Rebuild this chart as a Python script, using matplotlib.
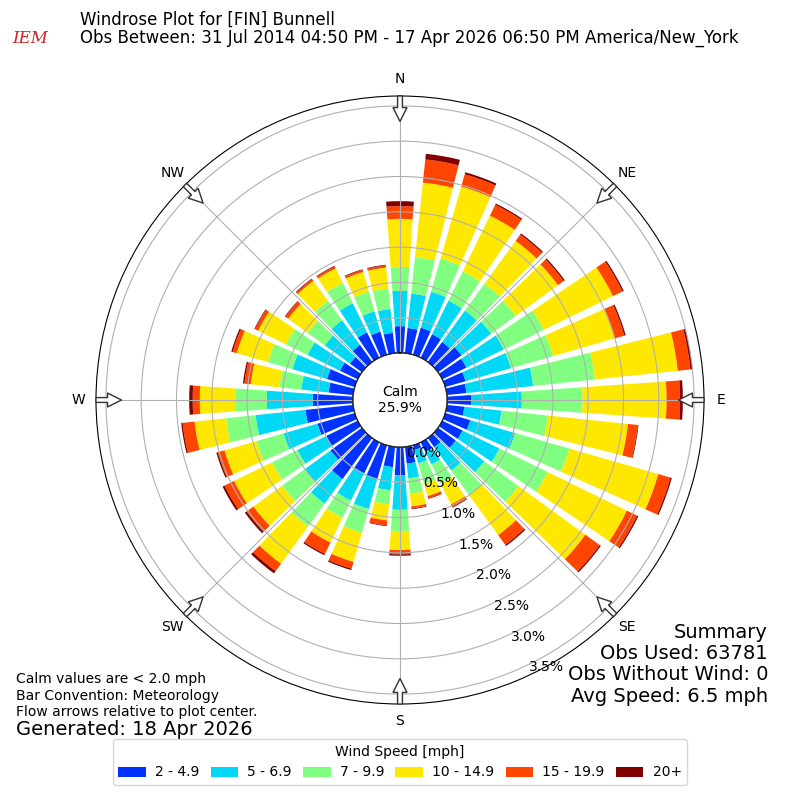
import numpy as np
import matplotlib
matplotlib.use("Agg")
import matplotlib.pyplot as plt
from matplotlib.transforms import offset_copy

directions = list(range(0, 360, 10))
# cumulative percentages (upper edge of each speed bin) per direction
cum_2_4_9 = [0.38,0.36,0.40,0.37,0.35,0.41,0.38,0.30,0.28,0.34,0.25,0.37,0.32,0.31,0.16,0.15,0.07,0.24,
             0.40,0.29,0.50,0.49,0.72,0.55,0.50,0.55,0.68,0.57,0.35,0.41,0.28,0.21,0.30,0.40,0.34,0.29]
cum_5_6_9 = [0.88,0.85,0.93,0.90,0.90,0.93,0.97,0.97,1.23,1.06,0.78,1.03,0.90,0.81,0.57,0.35,0.27,0.45,
             0.89,0.62,0.94,0.92,1.15,1.00,0.95,1.05,1.39,1.22,0.74,0.92,0.79,0.65,0.73,0.86,0.64,0.63]
cum_7_9_9 = [1.22,1.37,1.42,1.36,1.37,1.36,1.60,1.59,2.11,1.92,1.44,1.83,1.66,1.41,1.00,0.65,0.57,0.67,
             1.19,0.82,1.29,1.19,1.55,1.40,1.35,1.45,1.81,1.67,1.05,1.28,1.13,0.95,1.07,1.18,0.93,0.92]
cum_10_14_9 = [1.90,2.43,2.48,2.24,2.12,2.10,2.69,2.50,3.29,3.11,2.58,3.14,2.91,2.58,1.70,0.98,0.75,0.85,
               1.46,1.05,1.72,1.58,2.20,1.90,1.95,1.92,2.26,2.17,1.46,1.74,1.57,1.29,1.42,1.41,1.22,1.22]
cum_15_19_9 = [2.08,2.76,2.66,2.41,2.23,2.20,2.84,2.64,3.47,3.30,2.72,3.32,3.07,2.83,1.87,1.02,0.78,0.88,
               1.52,1.12,1.82,1.76,2.33,2.02,2.10,2.02,2.43,2.27,1.55,1.80,1.62,1.34,1.45,1.44,1.25,1.25]
cum_20_plus = [2.15,2.84,2.69,2.43,2.25,2.22,2.86,2.66,3.50,3.34,2.73,3.34,3.09,2.85,1.89,1.03,0.79,0.89,
               1.54,1.13,1.84,1.78,2.37,2.05,2.13,2.04,2.45,2.32,1.57,1.82,1.63,1.35,1.46,1.45,1.26,1.26]

bin_labels = ["2 - 4.9", "5 - 6.9", "7 - 9.9", "10 - 14.9", "15 - 19.9", "20+"]
bin_colors = ["#0033ff", "#00d8f5", "#80ff80", "#ffe800", "#ff4500", "#7f0000"]
rticks = [0.0, 0.5, 1.0, 1.5, 2.0, 2.5, 3.0, 3.5]
compass = ["N", "NE", "E", "SE", "S", "SW", "W", "NW"]

fig = plt.figure(figsize=(8, 8), dpi=100)
ax = fig.add_axes([0.12, 0.12, 0.76, 0.76], projection="polar")
ax.set_theta_zero_location("N")
ax.set_theta_direction(-1)
ax.set_rorigin(-0.666)
ax.set_ylim(0, 3.64)
ax.set_axisbelow(False)

theta = np.deg2rad(directions)
cums = [cum_2_4_9, cum_5_6_9, cum_7_9_9, cum_10_14_9, cum_15_19_9, cum_20_plus]
prev = np.zeros(len(directions))
handles = []
for c, lab, col in zip(cums, bin_labels, bin_colors):
    c = np.array(c)
    h = ax.bar(theta, c - prev, width=np.deg2rad(8), bottom=prev, color=col,
               label=lab, zorder=1, linewidth=0)
    handles.append(h)
    prev = c

ax.set_yticks(rticks)
ax.set_yticklabels([])
lab_tr = offset_copy(ax.transData, fig=fig, x=0, y=-12, units="dots")
for v in rticks:
    ax.text(np.deg2rad(150.2), v, f"{v:.1f}%", transform=lab_tr, ha="center", va="center",
            fontsize=10, zorder=10)
ax.set_xticks(np.deg2rad(np.arange(0, 360, 45)))
ax.set_xticklabels(compass, fontsize=10)
ax.tick_params(axis="x", pad=2)
ax.grid(True, color="#b0b0b0", linewidth=0.8)

# hole outline
tt = np.linspace(0, 2 * np.pi, 400)
ax.plot(tt, np.zeros_like(tt), color="black", linewidth=1, zorder=5)

# flow arrows
for a in np.arange(0, 360, 45):
    t = np.deg2rad(a)
    ax.annotate("", xy=(t, 3.24), xytext=(t, 3.68),
                arrowprops=dict(arrowstyle="simple,head_width=1.0,head_length=1.0,tail_width=0.35",
                                fc="white", ec="#333333", lw=1),
                annotation_clip=False, zorder=6)

ax.text(0, -0.666, "Calm\n25.9%", ha="center", va="center", fontsize=10, zorder=7)

fig.text(0.10, 0.975, "Windrose Plot for [FIN] Bunnell", fontsize=12, va="center")
fig.text(0.10, 0.953, "Obs Between: 31 Jul 2014 04:50 PM - 17 Apr 2026 06:50 PM America/New_York",
         fontsize=12, va="center")
fig.text(0.038, 0.952, "IEM", fontsize=12, color="#cc2222", style="italic", family="DejaVu Serif",
         ha="center", va="center")

fig.text(0.02, 0.151, "Calm values are < 2.0 mph", fontsize=10, va="center")
fig.text(0.02, 0.130, "Bar Convention: Meteorology", fontsize=10, va="center")
fig.text(0.02, 0.110, "Flow arrows relative to plot center.", fontsize=10, va="center")
fig.text(0.02, 0.088, "Generated: 18 Apr 2026", fontsize=14, va="center")

fig.text(0.96, 0.118, "Summary\nObs Used: 63781\nObs Without Wind: 0\nAvg Speed: 6.5 mph",
         fontsize=14, ha="right", va="bottom", linespacing=1.15)

fig.legend(handles=handles, labels=bin_labels, loc="lower center", bbox_to_anchor=(0.5, 0.01),
           ncol=6, title="Wind Speed [mph]", fontsize=10, title_fontsize=10,
           handlelength=2.0, handletextpad=0.65, columnspacing=0.8)

fig.savefig("out.png", dpi=100)
